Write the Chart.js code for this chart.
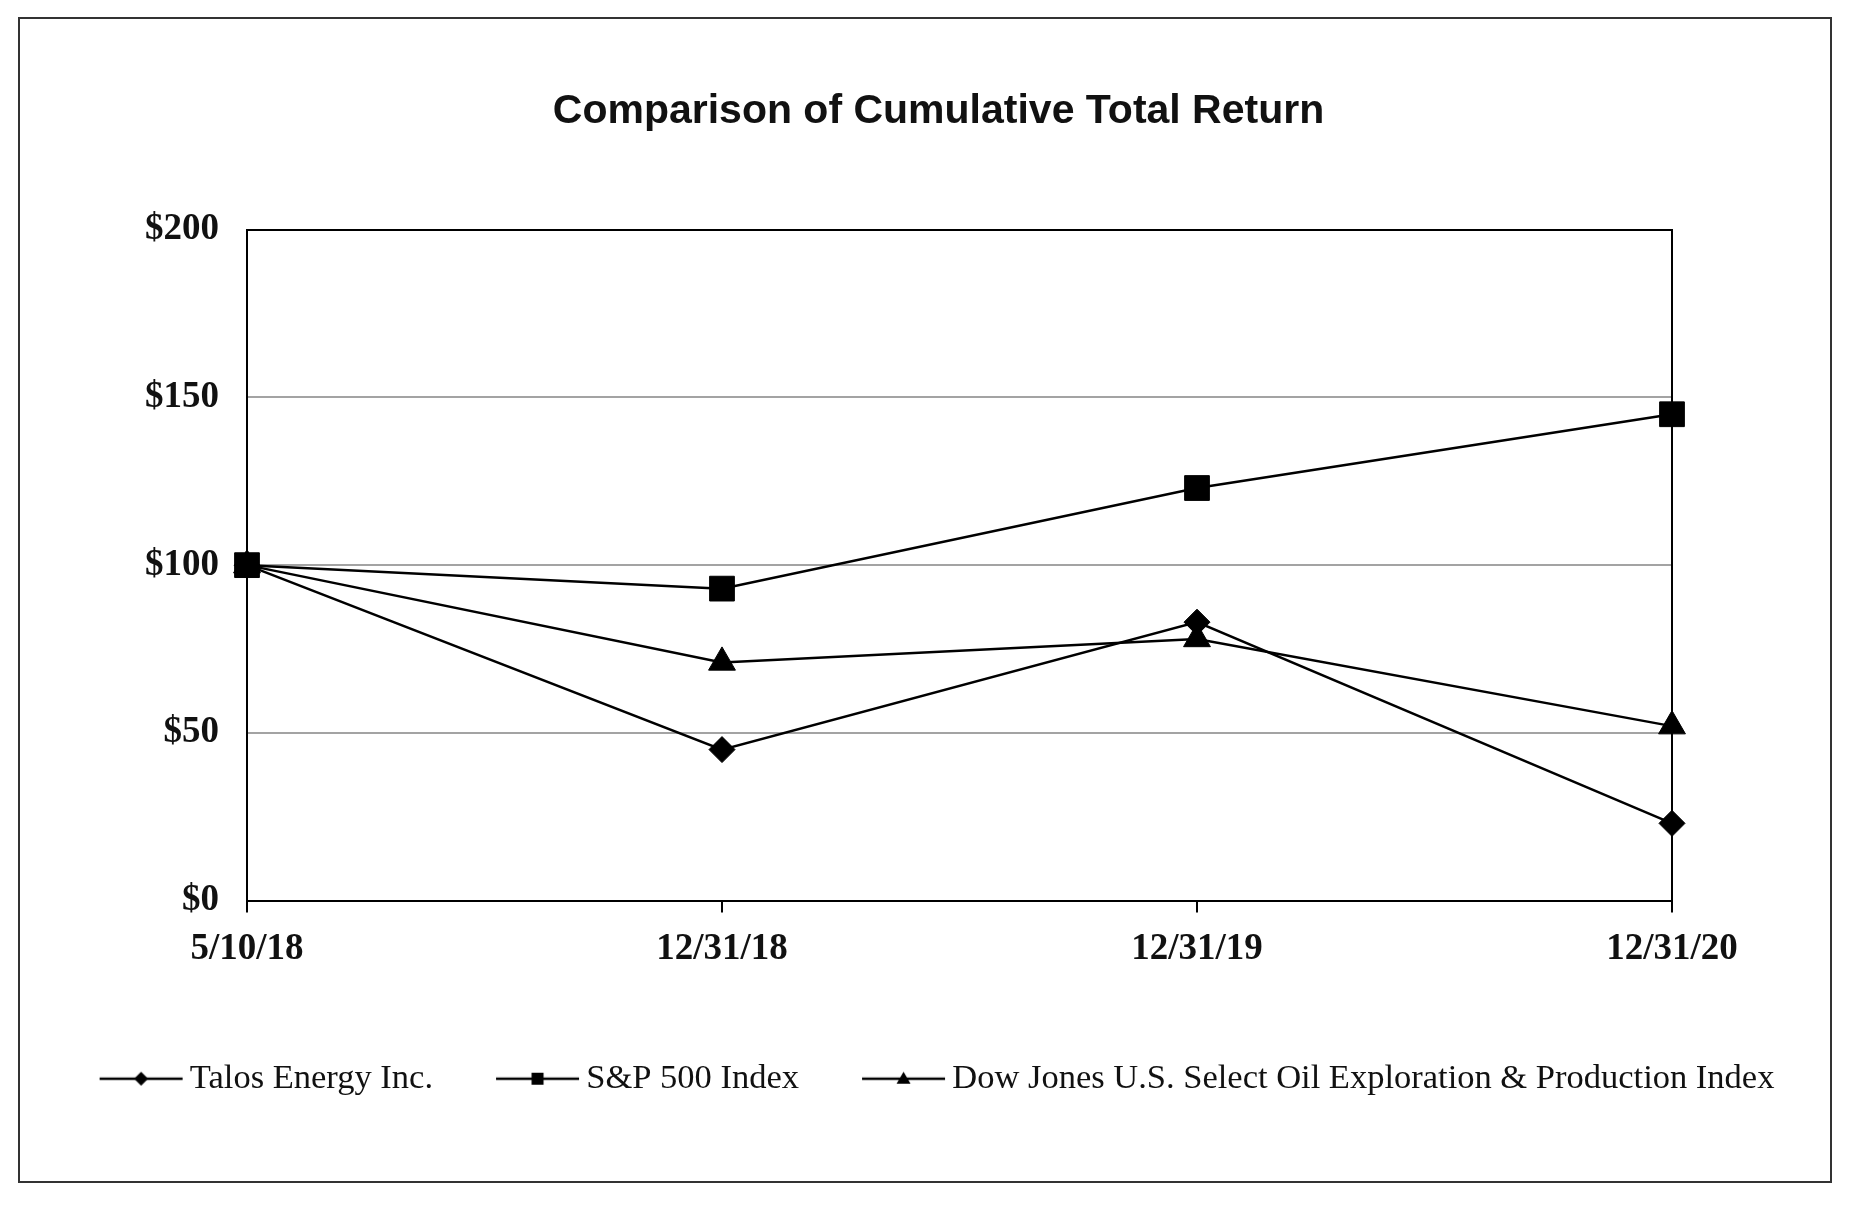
<!DOCTYPE html>
<html lang="en">
<head>
    <meta charset="UTF-8">
    <title>Comparison of Cumulative Total Return</title>
    <script src="https://cdn.jsdelivr.net/npm/chart.js"></script>
    <style>
        html, body { margin: 0; padding: 0; background: #fff; }
        .wrap { position: relative; width: 1857px; height: 1207px; }
        .frame {
            position: absolute; left: 18px; top: 17px; width: 1814px; height: 1166px;
            box-sizing: border-box; border: 2px solid #333; pointer-events: none;
        }
    </style>
</head>
<body>
    <div class="wrap">
        <canvas id="returnChart"></canvas>
        <div class="frame"></div>
    </div>

    <script>
        const dates = ['5/10/18', '12/31/18', '12/31/19', '12/31/20'];
        const talos = [100, 45, 83, 23];
        const sp500 = [100, 93, 123, 145];
        const dowJones = [100, 71, 78, 52];
        const yTicks = [0, 50, 100, 150, 200];

        // legend icon: short line with the marker in the middle (shifted right so text sits close)
        function makeIcon(style) {
            const c = document.createElement('canvas');
            c.width = 100; c.height = 30;
            const g = c.getContext('2d');
            g.strokeStyle = '#000'; g.fillStyle = '#000'; g.lineWidth = 2.5;
            g.beginPath(); g.moveTo(12, 15); g.lineTo(95, 15); g.stroke();
            const m = 53.5;
            g.beginPath();
            if (style === 'diamond') {
                g.moveTo(m, 8); g.lineTo(m + 7, 15); g.lineTo(m, 22); g.lineTo(m - 7, 15);
            } else if (style === 'square') {
                g.rect(m - 6, 9, 12, 12);
            } else {
                g.moveTo(m, 8); g.lineTo(m + 7, 20); g.lineTo(m - 7, 20);
            }
            g.closePath(); g.fill();
            return c;
        }
        const icons = [makeIcon('diamond'), makeIcon('square'), makeIcon('triangle')];

        const ctx = document.getElementById('returnChart').getContext('2d');
        new Chart(ctx, {
            type: 'line',
            data: {
                labels: dates,
                datasets: [
                    {
                        label: 'Talos Energy Inc.',
                        data: talos,
                        pointStyle: 'rectRot',
                        pointRadius: 13,
                        order: 1
                    },
                    {
                        label: 'S&P 500 Index',
                        data: sp500,
                        pointStyle: 'rect',
                        pointRadius: 17.5,
                        order: 0
                    },
                    {
                        label: 'Dow Jones U.S. Select Oil Exploration & Production Index',
                        data: dowJones,
                        pointStyle: 'triangle',
                        pointRadius: 15.5,
                        order: 1
                    }
                ].map(d => Object.assign(d, {
                    borderColor: '#000',
                    backgroundColor: '#000',
                    pointBackgroundColor: '#000',
                    pointBorderColor: '#000',
                    pointBorderWidth: 1,
                    pointHoverRadius: d.pointRadius,
                    borderWidth: 2.5,
                    tension: 0,
                    clip: false
                }))
            },
            options: {
                responsive: true,
                maintainAspectRatio: false,
                animation: false,
                layout: { padding: { left: 20, right: 0, top: 0, bottom: 101 } },
                plugins: {
                    title: {
                        display: true,
                        text: 'Comparison of Cumulative Total Return',
                        color: '#111',
                        font: { family: 'Liberation Sans', size: 41, weight: 'bold' },
                        padding: { top: 87, bottom: 93.6 }
                    },
                    legend: {
                        position: 'bottom',
                        labels: {
                            color: '#111',
                            font: { family: 'Liberation Serif', size: 34.5 },
                            usePointStyle: true,
                            pointStyleWidth: 70,
                            padding: 66,
                            generateLabels(chart) {
                                const items = Chart.defaults.plugins.legend.labels.generateLabels(chart);
                                items.sort((a, b) => a.datasetIndex - b.datasetIndex);
                                items.forEach(it => { it.pointStyle = icons[it.datasetIndex]; });
                                return items;
                            }
                        }
                    },
                    tooltip: { enabled: false }
                },
                scales: {
                    x: {
                        offset: false,
                        afterFit(scale) { scale.height = 95; },
                        grid: {
                            drawOnChartArea: false,
                            drawTicks: true,
                            tickLength: 12,
                            color: '#000',
                            lineWidth: 2
                        },
                        border: { color: '#000', width: 2 },
                        ticks: {
                            color: '#111',
                            padding: 15,
                            maxRotation: 0,
                            font: { family: 'Liberation Serif', size: 37, weight: 'bold' }
                        }
                    },
                    y: {
                        min: 0,
                        max: 200,
                        afterFit(scale) { scale.width = 227; },
                        afterBuildTicks(scale) { scale.ticks = yTicks.map(v => ({ value: v })); },
                        grid: {
                            drawTicks: false,
                            color: c => (c.tick && c.tick.value === 200) ? '#000' : '#a3a3a3',
                            lineWidth: 2
                        },
                        border: { color: '#000', width: 2 },
                        ticks: {
                            color: '#111',
                            padding: 28,
                            font: { family: 'Liberation Serif', size: 37, weight: 'bold' },
                            callback: v => '$' + v
                        }
                    },
                    right: {
                        type: 'linear',
                        position: 'right',
                        afterFit(scale) { scale.width = 185; },
                        grid: { display: false, drawTicks: false },
                        border: { color: '#000', width: 2 },
                        ticks: { display: false }
                    }
                }
            }
        });
    </script>
</body>
</html>
